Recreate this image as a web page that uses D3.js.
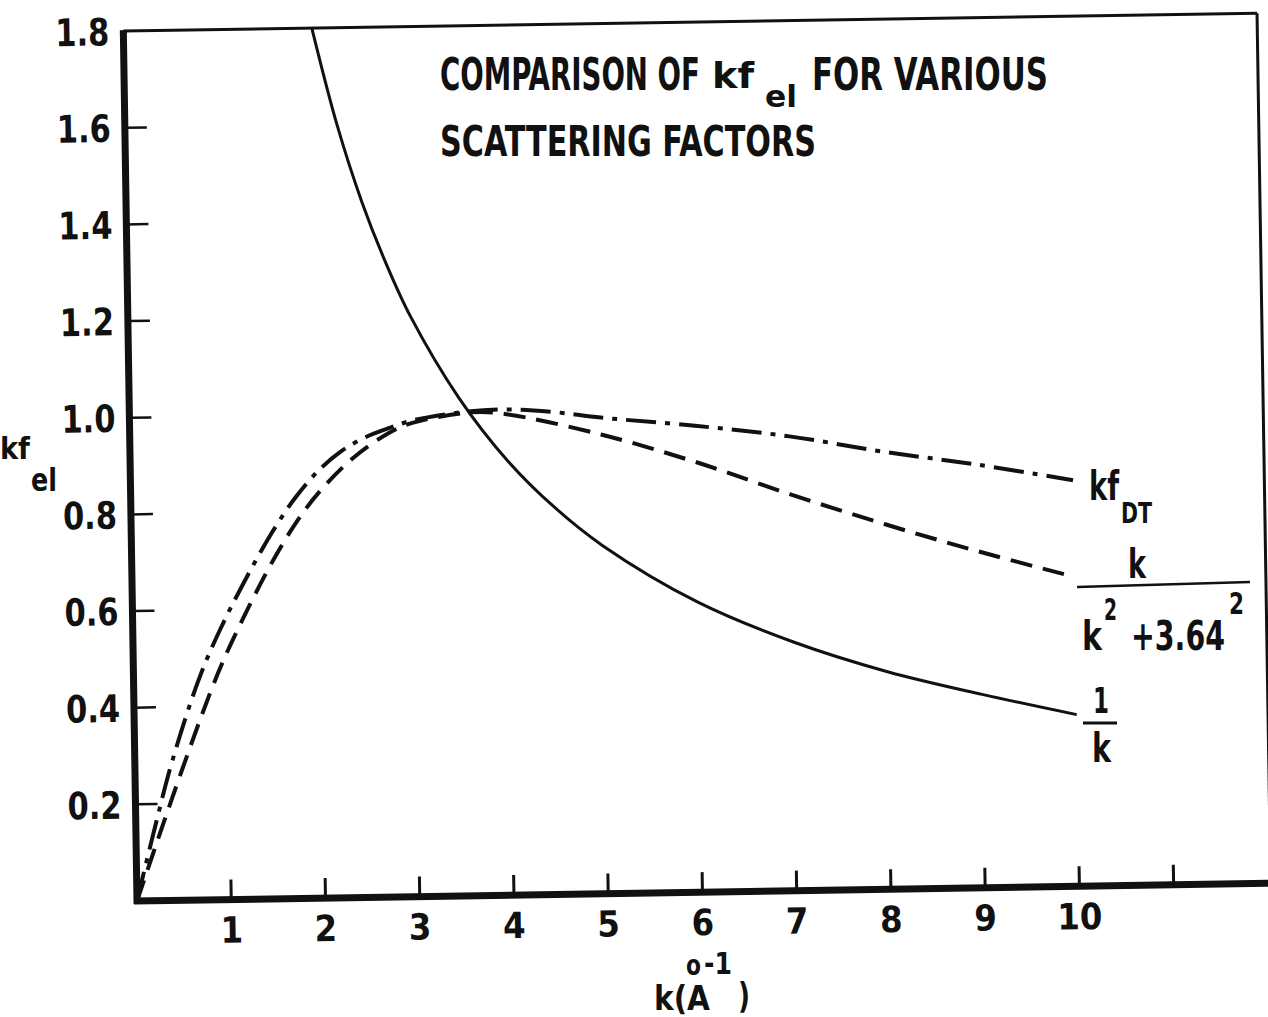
<!DOCTYPE html>
<html>
<head>
<meta charset="utf-8">
<script src="https://cdn.jsdelivr.net/npm/d3@7"></script>
<style>
  body { margin: 0; background: #fff; }
  text { font-family: "DejaVu Sans Condensed", "Liberation Sans Narrow", "Roboto Condensed", sans-serif; font-weight: bold; fill: #111; }
</style>
</head>
<body>
<svg id="chart" width="1268" height="1017"></svg>
<script>
// values
const kTicks = [1, 2, 3, 4, 5, 6, 7, 8, 9, 10, 11];
const kLabels = ["1", "2", "3", "4", "5", "6", "7", "8", "9", "10", ""];
const yTicks = [0.2, 0.4, 0.6, 0.8, 1.0, 1.2, 1.4, 1.6, 1.8];
const yLabels = ["0.2", "0.4", "0.6", "0.8", "1.0", "1.2", "1.4", "1.6", "1.8"];

// solid: 1/k
const kInv = [2.0, 2.25, 2.5, 2.75, 3.0, 3.5, 4.0, 4.5, 5.0, 6.0, 7.0, 8.0, 9.0, 10.0];
const vInv = [1.80, 1.60, 1.44, 1.31, 1.20, 1.03, 0.90, 0.80, 0.72, 0.60, 0.515, 0.45, 0.40, 0.355];

// dashed: k/(k^2+3.64^2)
const kLor = [0, 0.5, 0.9, 1.17, 1.5, 1.76, 2.0, 2.37, 2.75, 3.0, 3.64, 4.0, 5.0, 6.0, 7.0, 8.0, 9.0, 10.0];
const vLor = [0, 0.27, 0.47, 0.58, 0.70, 0.78, 0.84, 0.91, 0.96, 0.98, 1.0, 0.995, 0.95, 0.89, 0.82, 0.755, 0.695, 0.64];

// dash-dot: kf_DT
const kDT = [0, 0.2, 0.4, 0.7, 0.93, 1.2, 1.5, 1.75, 2.0, 2.25, 2.5, 2.75, 3.0, 3.5, 4.0, 4.5, 5.0, 6.0, 7.0, 8.0, 9.0, 10.0];
const vDT = [0, 0.15, 0.29, 0.46, 0.56, 0.66, 0.76, 0.83, 0.885, 0.925, 0.952, 0.97, 0.985, 1.0, 1.005, 0.998, 0.985, 0.965, 0.94, 0.905, 0.875, 0.84];

const svg = d3.select("#chart");

// squeeze a text horizontally so it spans `width` px (the scan uses a narrow face)
function fitText(parent, x, y, str, size, width) {
    const g = parent.append("g");
    const t = g.append("text").attr("font-size", size).text(str);
    const w = t.node().getComputedTextLength();
    g.attr("transform", `translate(${x},${y}) scale(${width / w},1)`);
    return t;
}

// the scan is tilted a little, so the plot frame is rotated
const plot = svg.append("g")
    .attr("transform", "translate(137,901) rotate(-0.9)");

const x = d3.scaleLinear().domain([0, 12]).range([0, 1131]);
const y = d3.scaleLinear().domain([0, 1.8]).range([0, -870]);

// frame
plot.append("line").attr("x1", 0).attr("y1", 3).attr("x2", 0).attr("y2", y(1.8) - 1)
    .attr("stroke", "#111").attr("stroke-width", 7);
plot.append("line").attr("x1", -3).attr("y1", 0).attr("x2", x(12.2)).attr("y2", 0)
    .attr("stroke", "#111").attr("stroke-width", 7);
plot.append("line").attr("x1", 0).attr("y1", y(1.8)).attr("x2", x(12.03)).attr("y2", y(1.8))
    .attr("stroke", "#111").attr("stroke-width", 3);
plot.append("line").attr("x1", x(12.03)).attr("y1", y(1.8)).attr("x2", x(12.03)).attr("y2", 0)
    .attr("stroke", "#111").attr("stroke-width", 3);

// y ticks
plot.selectAll(".ytick").data(yTicks.slice(0, -1)).enter().append("line")
    .attr("class", "ytick")
    .attr("x1", 0).attr("x2", 22)
    .attr("y1", d => y(d)).attr("y2", d => y(d))
    .attr("stroke", "#111").attr("stroke-width", 2.5);

yTicks.forEach((d, i) => fitText(plot, -68, y(d) + 14, yLabels[i], 38, 54));

// x ticks
plot.selectAll(".xtick").data(kTicks).enter().append("line")
    .attr("class", "xtick")
    .attr("x1", d => x(d)).attr("x2", d => x(d))
    .attr("y1", 0).attr("y2", -20)
    .attr("stroke", "#111").attr("stroke-width", 3);

plot.selectAll(".xlab").data(kTicks).enter().append("text")
    .attr("class", "xlab")
    .attr("x", d => x(d)).attr("y", 43)
    .attr("text-anchor", "middle")
    .attr("font-size", 36)
    .text((d, i) => kLabels[i]);

// curves
plot.append("clipPath").attr("id", "clip")
    .append("rect").attr("x", 0).attr("y", y(1.8)).attr("width", x(12)).attr("height", -y(1.8));

const line = (ks, vs) => d3.line()
    .x(i => x(ks[i]))
    .y(i => y(vs[i]))
    .curve(d3.curveCatmullRom.alpha(0.5))(d3.range(ks.length));

const curves = plot.append("g").attr("clip-path", "url(#clip)");

curves.append("path").attr("d", line(kInv, vInv))
    .attr("fill", "none").attr("stroke", "#111").attr("stroke-width", 3);
curves.append("path").attr("d", line(kLor, vLor))
    .attr("fill", "none").attr("stroke", "#111").attr("stroke-width", 4)
    .attr("stroke-dasharray", "22,11");
curves.append("path").attr("d", line(kDT, vDT))
    .attr("fill", "none").attr("stroke", "#111").attr("stroke-width", 4)
    .attr("stroke-dasharray", "30,9,5,9");

// title
fitText(svg, 440, 90, "COMPARISON OF", 44, 260);
fitText(svg, 712, 88, "kf", 36, 42);
fitText(svg, 765, 107, "el", 30, 32);
fitText(svg, 812, 90, "FOR VARIOUS", 44, 236);
fitText(svg, 440, 156, "SCATTERING FACTORS", 42, 376);

// y axis label
fitText(svg, 0, 459, "kf", 30, 30);
fitText(svg, 31, 491, "el", 32, 26);

// x axis label
fitText(svg, 654, 1010, "k(A", 34, 56);
fitText(svg, 686, 975, "o", 28, 15);
fitText(svg, 704, 974, "-1", 30, 28);
fitText(svg, 738, 1008, ")", 36, 12);

// curve labels
fitText(svg, 1089, 500, "kf", 40, 30);
fitText(svg, 1121, 523, "DT", 28, 31);

fitText(svg, 1128, 578, "k", 40, 18);
svg.append("line").attr("x1", 1077).attr("y1", 587).attr("x2", 1250).attr("y2", 582)
    .attr("stroke", "#111").attr("stroke-width", 2.5);
fitText(svg, 1082, 650, "k", 40, 20);
fitText(svg, 1104, 620, "2", 30, 13);
fitText(svg, 1131, 650, "+3.64", 40, 94);
fitText(svg, 1229, 614, "2", 30, 15);

fitText(svg, 1093, 713, "1", 36, 16);
svg.append("line").attr("x1", 1083).attr("y1", 723).attr("x2", 1117).attr("y2", 723)
    .attr("stroke", "#111").attr("stroke-width", 3);
fitText(svg, 1092, 762, "k", 40, 19);
</script>
</body>
</html>
